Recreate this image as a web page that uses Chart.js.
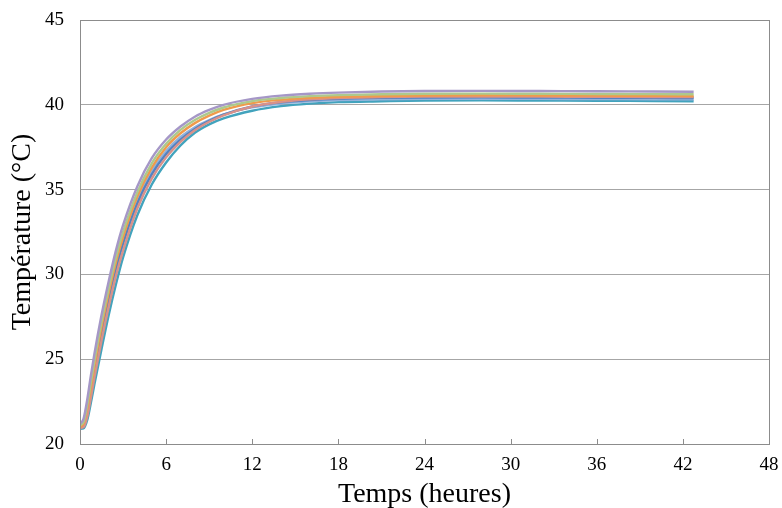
<!DOCTYPE html>
<html>
<head>
<meta charset="utf-8">
<script src="https://cdn.jsdelivr.net/npm/chart.js@4.4.1/dist/chart.umd.min.js"></script>
<style>
  body { margin: 0; background: #fff; }
  #wrap { width: 782px; height: 508px; }
</style>
</head>
<body>
<div id="wrap"><canvas id="chart" width="782" height="508"></canvas></div>
<script>
    "use strict";

    // time axis (hours) shared by all runs
    var times = [0, 0.25, 0.5, 0.75, 1, 1.5, 2, 2.5, 3, 4, 5, 6, 7, 8, 9, 10, 12, 14, 16, 18, 21, 24, 28, 32, 36, 40, 42.75];

    // temperature runs (°C)
    var runPurple = [21.2, 21.5, 22.6, 24.0, 25.3, 27.6, 29.6, 31.4, 32.9, 35.2, 36.85, 37.95, 38.72, 39.3, 39.7, 40.0, 40.35, 40.54, 40.65, 40.72, 40.78, 40.81, 40.82, 40.81, 40.8, 40.78, 40.77];
    var runGreen = [21.1, 21.3, 22.3, 23.6, 24.9, 27.2, 29.2, 31.0, 32.5, 34.85, 36.55, 37.7, 38.52, 39.1, 39.52, 39.84, 40.22, 40.4, 40.51, 40.57, 40.62, 40.65, 40.66, 40.65, 40.64, 40.63, 40.62];
    var runOrange = [21.0, 21.2, 22.1, 23.3, 24.6, 26.9, 28.9, 30.7, 32.2, 34.6, 36.3, 37.5, 38.32, 38.92, 39.36, 39.7, 40.1, 40.3, 40.41, 40.47, 40.52, 40.55, 40.56, 40.55, 40.54, 40.53, 40.52];
    var runSalmon = [20.95, 21.0, 21.6, 22.7, 23.9, 26.1, 28.1, 29.9, 31.4, 33.9, 35.65, 36.9, 37.82, 38.5, 39.0, 39.38, 39.9, 40.17, 40.32, 40.4, 40.45, 40.48, 40.49, 40.48, 40.47, 40.46, 40.45];
    var runBlue = [20.95, 21.05, 21.8, 23.0, 24.2, 26.5, 28.5, 30.3, 31.8, 34.2, 35.9, 37.1, 37.95, 38.58, 39.05, 39.42, 39.9, 40.15, 40.28, 40.36, 40.41, 40.43, 40.44, 40.43, 40.42, 40.41, 40.4];
    var runLightBlue = [21.0, 21.1, 21.9, 23.2, 24.4, 26.7, 28.7, 30.5, 32.0, 34.4, 36.1, 37.28, 38.1, 38.68, 39.1, 39.43, 39.85, 40.08, 40.2, 40.28, 40.33, 40.35, 40.36, 40.35, 40.34, 40.33, 40.32];
    var runTeal = [20.9, 20.92, 21.4, 22.4, 23.5, 25.6, 27.6, 29.4, 31.0, 33.5, 35.3, 36.6, 37.6, 38.35, 38.85, 39.2, 39.65, 39.92, 40.07, 40.16, 40.21, 40.25, 40.26, 40.25, 40.24, 40.22, 40.21];

    var xTicks = [0, 6, 12, 18, 24, 30, 36, 42, 48];
    var yTicks = [20, 25, 30, 35, 40, 45];

    var runs = [
        { values: runPurple, color: "#A597C7" },
        { values: runGreen, color: "#ADC98C" },
        { values: runOrange, color: "#F09A4C" },
        { values: runSalmon, color: "#D8918B" },
        { values: runBlue, color: "#5482C0" },
        { values: runLightBlue, color: "#92B2DC" },
        { values: runTeal, color: "#42A3BD" }
    ];

    function toPoints(values) {
        return times.map(function (t, i) { return { x: t, y: values[i] }; });
    }

    // plot frame + small inward ticks on the time axis
    var frame = {
        id: "frame",
        afterDraw: function (chart) {
            var c = chart.ctx, a = chart.chartArea, xs = chart.scales.x;
            c.save();
            c.strokeStyle = "#8C8C8C";
            c.lineWidth = 1;
            c.strokeRect(Math.round(a.left) + 0.5, Math.round(a.top) + 0.5,
                Math.round(a.right - a.left), Math.round(a.bottom - a.top));
            c.beginPath();
            xTicks.forEach(function (v) {
                var px = Math.round(xs.getPixelForValue(v)) + 0.5;
                c.moveTo(px, a.bottom);
                c.lineTo(px, a.bottom - 5);
            });
            c.stroke();
            c.restore();
        }
    };

    var serif = "'Liberation Serif', 'Times New Roman', serif";

    new Chart(document.getElementById("chart").getContext("2d"), {
        type: "line",
        data: {
            datasets: runs.map(function (r) {
                return {
                    data: toPoints(r.values),
                    borderColor: r.color,
                    borderWidth: 2.4,
                    pointRadius: 0,
                    fill: false,
                    cubicInterpolationMode: "monotone"
                };
            })
        },
        options: {
            responsive: false,
            animation: false,
            layout: { padding: { top: 20, right: 13, left: 0, bottom: 0 } },
            plugins: { legend: { display: false }, tooltip: { enabled: false } },
            scales: {
                x: {
                    type: "linear",
                    min: 0,
                    max: 48,
                    afterBuildTicks: function (s) { s.ticks = xTicks.map(function (v) { return { value: v }; }); },
                    afterFit: function (s) { s.height = 64; s.paddingLeft = 0; s.paddingRight = 0; },
                    grid: { display: false, drawTicks: false },
                    border: { display: true, color: "#8C8C8C" },
                    ticks: { color: "#000", padding: 10, font: { family: serif, size: 19 } },
                    title: { display: true, text: "Temps (heures)", color: "#000", padding: { top: 0, bottom: -1 }, font: { family: serif, size: 28, lineHeight: 1 } }
                },
                y: {
                    min: 20,
                    max: 45,
                    afterBuildTicks: function (s) { s.ticks = yTicks.map(function (v) { return { value: v }; }); },
                    afterFit: function (s) { s.width = 80; s.paddingTop = 0; s.paddingBottom = 0; },
                    grid: { color: "#A6A6A6", drawTicks: false },
                    border: { display: true, color: "#8C8C8C" },
                    ticks: { color: "#000", padding: 16, font: { family: serif, size: 19 } },
                    title: { display: true, text: "Température (°C)", color: "#000", padding: { top: 9, bottom: 0 }, font: { family: serif, size: 28, lineHeight: 1 } }
                }
            }
        },
        plugins: [frame]
    });
</script>
</body>
</html>
